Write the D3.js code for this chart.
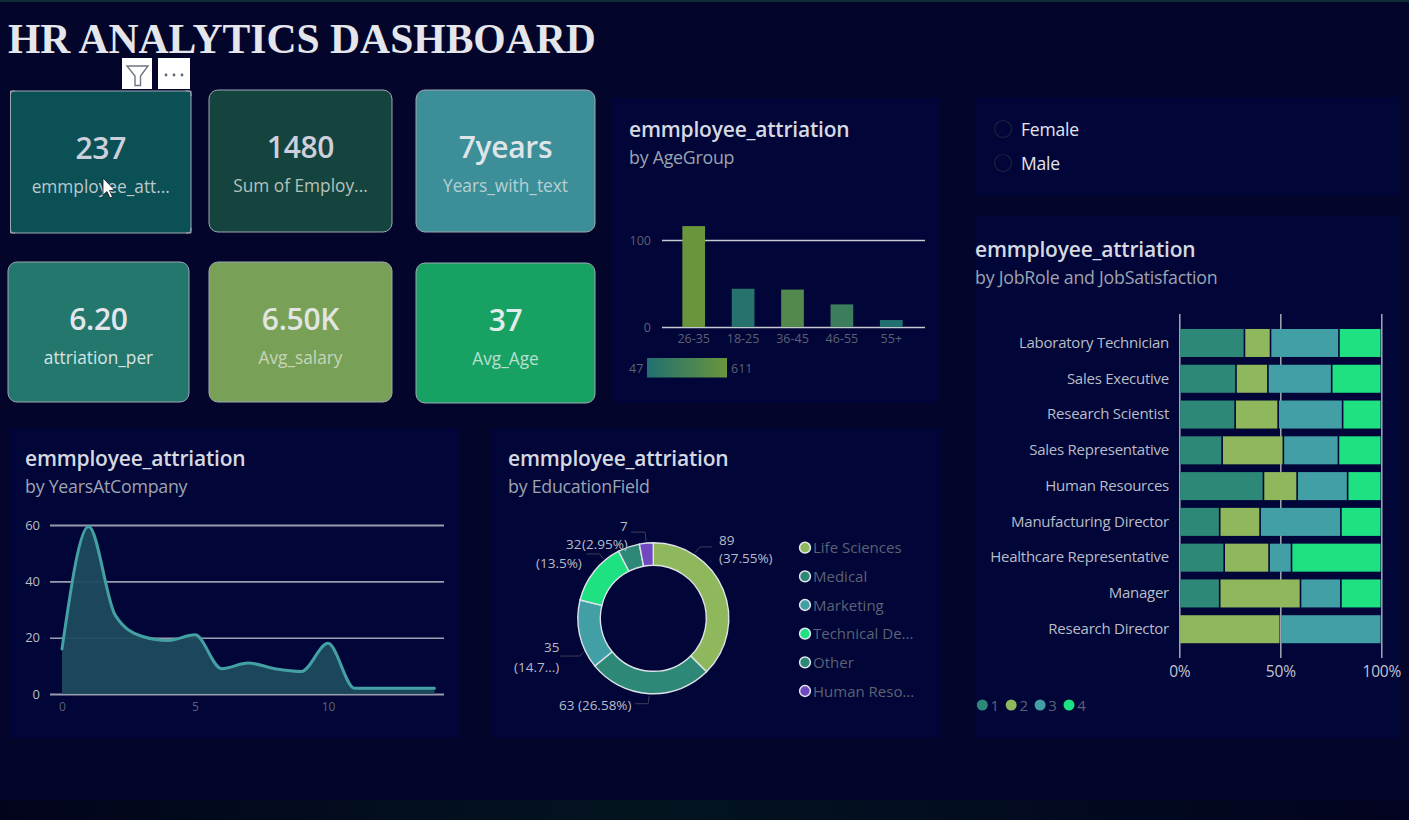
<!DOCTYPE html>
<html>
<head>
<meta charset="utf-8">
<script src="https://cdn.jsdelivr.net/npm/d3@7"></script>
<style>
  html, body { margin: 0; padding: 0; background: #03052a; overflow: hidden; }
  svg { display: block; }
  text { font-family: "Open Sans", "Noto Sans", sans-serif; }
</style>
</head>
<body>
<svg id="board" width="1409" height="820"></svg>
<script>
// ---- Data ----
const dashboardTitle = "HR ANALYTICS DASHBOARD";
const measureName = "emmployee_attriation";

const cardValues = ["237", "1480", "7years", "6.20", "6.50K", "37"];
const cardLabels = ["emmployee_att...", "Sum of Employ...", "Years_with_text", "attriation_per", "Avg_salary", "Avg_Age"];

const genderOptions = ["Female", "Male"];

const ageGroups = ["26-35", "18-25", "36-45", "46-55", "55+"];
const ageAttrition = [116, 44, 43, 26, 8];
const ageColorMeasure = [611, 95, 430, 250, 47];
const ageColorRange = [47, 611];

const yearsAtCompany = [0, 1, 2, 3, 4, 5, 6, 7, 8, 9, 10, 11, 12, 13, 14];
const yearsAttrition = [16, 59.5, 28, 20.5, 19, 21, 9, 11, 9, 8, 18, 2, 2, 2, 2];

const educationFields = ["Life Sciences", "Medical", "Marketing", "Technical De...", "Other", "Human Reso..."];
const educationAttrition = [89, 63, 35, 32, 11, 7];

const jobRoles = ["Laboratory Technician", "Sales Executive", "Research Scientist", "Sales Representative",
  "Human Resources", "Manufacturing Director", "Healthcare Representative", "Manager", "Research Director"];
const satisfactionLevels = ["1", "2", "3", "4"];
const satisfaction1 = [20, 16, 13, 7, 5, 2, 2, 1, 0];
const satisfaction2 = [8, 9, 10, 10, 2, 2, 2, 2, 1];
const satisfaction3 = [21, 18, 15, 9, 3, 4, 1, 1, 1];
const satisfaction4 = [13, 14, 9, 7, 2, 2, 4, 1, 0];

// ---- Palette ----
const panelFill = "#010537";
const teal = "#2d8878", olive = "#8fb85c", aqua = "#429fa6", mint = "#1ee181", violet = "#7048c0";
const greyText = "#5c6274", softText = "#b9bdc9", titleText = "#d6d9e2", subText = "#9ea3b2", gridGrey = "#a6a8b6";

const svg = d3.select("#board");

// Page backdrop: thin glow along the top edge and a darker band at the foot
const defs = svg.append("defs");
const footGlow = defs.append("linearGradient").attr("id", "footGlow");
footGlow.selectAll("stop").data([["0%", "#02041c"], ["45%", "#03141f"], ["100%", "#020320"]]).join("stop")
  .attr("offset", d => d[0]).attr("stop-color", d => d[1]);
svg.append("rect").attr("width", 1409).attr("height", 820).attr("fill", "#03052a");
svg.append("rect").attr("width", 1409).attr("height", 2).attr("fill", "#0d2c33");
svg.append("rect").attr("y", 800).attr("width", 1409).attr("height", 20).attr("fill", "url(#footGlow)");

function label(parent, x, y, str, size, fill, opts = {}) {
  return parent.append("text").attr("x", x).attr("y", y).text(str)
    .attr("font-size", size).attr("fill", fill)
    .attr("font-weight", opts.weight || 400)
    .attr("letter-spacing", opts.spacing || 0)
    .attr("text-anchor", opts.anchor || "start");
}

function panel(x, y, w, h) {
  svg.append("rect").attr("x", x).attr("y", y).attr("width", w).attr("height", h).attr("fill", panelFill);
}

function heading(x, y, sub) {
  label(svg, x, y, measureName, 21, titleText, { weight: 600, spacing: -0.2 });
  label(svg, x, y + 27, sub, 17.8, subText, { spacing: -0.25 });
}

// ---- Title ----
label(svg, 8, 53, dashboardTitle, 41.6, "#e4e6ec", { weight: 700 }).style("font-family", '"Liberation Serif", serif');

// ---- KPI cards ----
const cardBoxes = [
  { x: 10.5, y: 91, w: 180.5, h: 142, fill: "#0a5055", val: "#cdd0dc", sub: "#bcc8cc" },
  { x: 209, y: 90, w: 183, h: 142, fill: "#15443e", val: "#cdd0dc", sub: "#b4c2bf" },
  { x: 416, y: 90, w: 179, h: 142, fill: "#3c8f98", val: "#dfe4e8", sub: "#b8d0d4" },
  { x: 8, y: 262, w: 181, h: 140, fill: "#23776d", val: "#e2e6ea", sub: "#d8e4e4" },
  { x: 209, y: 262, w: 183, h: 140, fill: "#78a056", val: "#e2e6e2", sub: "#c6d6ba" },
  { x: 416, y: 263, w: 179, h: 140, fill: "#17a163", val: "#e2ecea", sub: "#b8e0cf" }
];
cardBoxes.forEach((b, i) => {
  svg.append("rect").attr("x", b.x).attr("y", b.y).attr("width", b.w).attr("height", b.h)
    .attr("rx", i === 0 ? 3 : 9).attr("fill", b.fill).attr("stroke", "#9fa8b4").attr("stroke-width", 1);
  label(svg, b.x + b.w / 2, b.y + 68, cardValues[i], 30, b.val, { anchor: "middle", weight: 600, spacing: -0.3 });
  label(svg, b.x + b.w / 2, b.y + 102, cardLabels[i], 17.3, b.sub, { anchor: "middle" });
});

// Selection brackets around the first card, its header buttons and the pointer
const corner = svg.append("g").attr("fill", "none").attr("stroke", "#a2a6b4").attr("stroke-width", 1);
[[10.5, 96, 10.5, 91, 15, 91], [186, 91, 191, 91, 191, 96], [191, 228, 191, 233, 186, 233], [15, 233, 10.5, 233, 10.5, 228]]
  .forEach(c => corner.append("path").attr("d", `M${c[0]},${c[1]}L${c[2]},${c[3]}L${c[4]},${c[5]}`));
svg.append("rect").attr("x", 122).attr("y", 58).attr("width", 30).attr("height", 31).attr("fill", "#fff");
svg.append("rect").attr("x", 158).attr("y", 58).attr("width", 32).attr("height", 31).attr("fill", "#fff");
svg.append("path").attr("d", "M127,66H148L140.5,76V85.5L135,85.5V76Z").attr("fill", "none").attr("stroke", "#6f7480").attr("stroke-width", 1.4);
[166, 174, 182].forEach(cx => svg.append("circle").attr("cx", cx).attr("cy", 75).attr("r", 1.4).attr("fill", "#5c6270"));
svg.append("path").attr("d", "M103,178V195L107,191.5L110,198L112.5,197L109.5,190.5L114.5,190Z")
  .attr("fill", "#fff").attr("stroke", "#10131f").attr("stroke-width", 0.8);

// ---- Attrition by age group ----
panel(612, 98, 328, 305);
heading(629, 137, "by AgeGroup");
const ageX = d3.scaleBand().domain(ageGroups).range([669, 916]).paddingInner(0.54).paddingOuter(0.27);
const ageY = d3.scaleLinear().domain([0, 100]).range([327, 240]);
const ageColor = d3.scaleLinear().domain(ageColorRange).range(["#216f70", "#6a953c"]);
const ageAxisY = svg.append("g").attr("transform", "translate(662,0)")
  .call(d3.axisLeft(ageY).tickValues([0, 100]).tickSize(-263).tickPadding(11));
ageAxisY.select(".domain").remove();
ageAxisY.selectAll("line").attr("stroke", "#c6c8d2").attr("stroke-width", 1.4);
ageAxisY.selectAll("text").attr("font-size", 12.5).attr("fill", greyText).style("font-family", '"Open Sans"');
svg.append("g").selectAll("rect").data(ageGroups).join("rect")
  .attr("x", d => ageX(d)).attr("width", ageX.bandwidth())
  .attr("y", (d, i) => ageY(ageAttrition[i])).attr("height", (d, i) => ageY(0) - ageY(ageAttrition[i]))
  .attr("fill", (d, i) => ageColor(ageColorMeasure[i]));
const ageAxisX = svg.append("g").attr("transform", "translate(0,327)")
  .call(d3.axisBottom(ageX).tickSize(0).tickPadding(7));
ageAxisX.select(".domain").remove();
ageAxisX.selectAll("text").attr("font-size", 12.5).attr("fill", greyText).style("font-family", '"Open Sans"');
const ramp = defs.append("linearGradient").attr("id", "ageRamp");
ramp.selectAll("stop").data(ageColorRange).join("stop")
  .attr("offset", (d, i) => i * 100 + "%").attr("stop-color", d => ageColor(d));
svg.append("rect").attr("x", 647).attr("y", 358).attr("width", 80).attr("height", 19.5).attr("fill", "url(#ageRamp)");
label(svg, 629, 373, String(ageColorRange[0]), 12.5, greyText);
label(svg, 731, 373, String(ageColorRange[1]), 12.5, greyText);

// ---- Gender slicer ----
panel(975, 97, 425, 99);
genderOptions.forEach((g, i) => {
  svg.append("circle").attr("cx", 1003).attr("cy", 129 + i * 34).attr("r", 8.5)
    .attr("fill", "none").attr("stroke", "#1b2240").attr("stroke-width", 1.2);
  label(svg, 1021, 136 + i * 33.5, g, 17.5, "#e4e6ee", { spacing: -0.2 });
});

// ---- Attrition by job role and satisfaction ----
panel(975, 216, 425, 522);
heading(975, 257, "by JobRole and JobSatisfaction");
const roleTable = jobRoles.map((r, i) => ({
  role: r, "1": satisfaction1[i], "2": satisfaction2[i], "3": satisfaction3[i], "4": satisfaction4[i]
}));
const roleStack = d3.stack().keys(satisfactionLevels).offset(d3.stackOffsetExpand)(roleTable);
const shareX = d3.scaleLinear().domain([0, 1]).range([1179.3, 1381.3]);
const roleY = d3.scaleBand().domain(jobRoles).range([325.1, 647.1]).paddingInner(0.217).paddingOuter(0.108);
const satColor = d3.scaleOrdinal().domain(satisfactionLevels).range([teal, olive, aqua, mint]);
const shareAxis = svg.append("g").attr("transform", "translate(0,658)")
  .call(d3.axisBottom(shareX).tickValues([0, 0.5, 1]).tickFormat(d3.format(".0%")).tickSize(344).tickPadding(6));
shareAxis.select(".domain").remove();
shareAxis.selectAll("line").attr("stroke", gridGrey).attr("stroke-width", 1.5).attr("y1", -344).attr("y2", 0);
shareAxis.selectAll("text").attr("y", 8).attr("dy", "0.71em").attr("font-size", 15.5).attr("letter-spacing", -0.2)
  .attr("fill", "#c2c5d0").style("font-family", '"Open Sans"');
svg.append("g").selectAll("g").data(roleStack).join("g").attr("fill", d => satColor(d.key))
  .selectAll("rect").data(d => d).join("rect")
  .attr("x", d => shareX(d[0]) + 0.8).attr("width", d => Math.max(0, shareX(d[1]) - shareX(d[0]) - 1.6))
  .attr("y", d => roleY(d.data.role)).attr("height", roleY.bandwidth());
const roleAxis = svg.append("g").attr("transform", "translate(1179,0)")
  .call(d3.axisLeft(roleY).tickSize(0).tickPadding(10));
roleAxis.select(".domain").remove();
roleAxis.selectAll("text").attr("font-size", 15).attr("letter-spacing", -0.25).attr("fill", softText).style("font-family", '"Open Sans"');
satisfactionLevels.forEach((s, i) => {
  svg.append("circle").attr("cx", 982.3 + i * 28.9).attr("cy", 705).attr("r", 5.5).attr("fill", satColor(s));
  label(svg, 990.5 + i * 28.9, 711, s, 15, greyText);
});

// ---- Attrition by years at company ----
panel(10, 428, 450, 310);
heading(25, 466, "by YearsAtCompany");
const yearX = d3.scaleLinear().domain([0, 5]).range([62, 195]);
const yearY = d3.scaleLinear().domain([0, 60]).range([694, 525]);
const yearAxisY = svg.append("g").attr("transform", "translate(50,0)")
  .call(d3.axisLeft(yearY).tickValues([0, 20, 40, 60]).tickSize(-394).tickPadding(10));
yearAxisY.select(".domain").remove();
yearAxisY.selectAll("line")
  .attr("stroke", d => d === 20 ? "#eef0f4" : "#9a9cae")
  .attr("stroke-width", d => d === 20 ? 1 : 1.8);
yearAxisY.selectAll("text").attr("font-size", 13).attr("fill", "#b9bdc9").style("font-family", '"Open Sans"');
const smooth = d3.curveMonotoneX;
svg.append("path").datum(yearsAttrition)
  .attr("d", d3.area().x((d, i) => yearX(yearsAtCompany[i])).y0(yearY(0)).y1(d => yearY(d)).curve(smooth))
  .attr("fill", "#1d4a5e").attr("fill-opacity", 0.95);
svg.append("path").datum(yearsAttrition)
  .attr("d", d3.line().x((d, i) => yearX(yearsAtCompany[i])).y(d => yearY(d)).curve(smooth))
  .attr("fill", "none").attr("stroke", "#43a1a4").attr("stroke-width", 3).attr("stroke-linecap", "round");
const yearAxisX = svg.append("g").attr("transform", "translate(0,694)")
  .call(d3.axisBottom(yearX).tickValues([0, 5, 10]).tickFormat(d3.format("d")).tickSize(0).tickPadding(8));
yearAxisX.select(".domain").remove();
yearAxisX.selectAll("text").attr("font-size", 12).attr("fill", greyText).style("font-family", '"Open Sans"');

// ---- Attrition by education field ----
panel(491, 428, 451, 310);
heading(508, 466, "by EducationField");
const ringColors = [olive, teal, aqua, mint, teal, violet];
const ringCx = 653.3, ringCy = 618.3, ringOuter = 75.5, ringInner = 53;
const ring = d3.pie().sort(null)(educationAttrition);
const arc = d3.arc().innerRadius(ringInner).outerRadius(ringOuter);
const ringG = svg.append("g").attr("transform", `translate(${ringCx},${ringCy})`);
ringG.selectAll("path").data(ring).join("path")
  .attr("d", arc).attr("fill", (d, i) => ringColors[i])
  .attr("stroke", "#dfe3e8").attr("stroke-width", 1.4);

// Callouts: a leader from each slice edge, with its text placed beside the ring
const callouts = [
  { slice: 0, along: 0.24, elbow: [5, -6], end: [17, -6], lines: [["89", 719, 545], ["(37.55%)", 719, 563]] },
  { slice: 1, along: 0.5, elbow: [-1, 8], end: [-14, 8], lines: [["63 (26.58%)", 559, 710]] },
  { slice: 2, along: 0.25, elbow: [-4, 4], end: [-23, 4], lines: [["35", 544, 652], ["(14.7...)", 514, 672]] },
  { slice: 3, along: 0.74, elbow: [-4, -5], end: [-17, -5], lines: [["32", 566, 549], ["(13.5%)", 536, 568]] },
  { slice: 5, along: 0.5, elbow: [-1, -9], end: [-15, -9], lines: [["7", 620, 531], ["(2.95%)", 582, 549]] }
];
callouts.forEach(c => {
  const s = ring[c.slice];
  const angle = s.startAngle + (s.endAngle - s.startAngle) * c.along;
  const px = ringCx + Math.sin(angle) * (ringOuter + 2), py = ringCy - Math.cos(angle) * (ringOuter + 2);
  svg.append("path").attr("fill", "none").attr("stroke", "#3a4058").attr("stroke-width", 1)
    .attr("d", d3.line()([[px, py], [px + c.elbow[0], py + c.elbow[1]], [px + c.end[0], py + c.end[1]]]));
  c.lines.forEach(l => label(svg, l[1], l[2], l[0], 13.5, softText));
});

const legendRows = d3.scaleLinear().domain([0, 5]).range([547.7, 691]);
educationFields.forEach((f, i) => {
  svg.append("circle").attr("cx", 805).attr("cy", legendRows(i)).attr("r", 5.4)
    .attr("fill", ringColors[i]).attr("stroke", "#e6e8ee").attr("stroke-width", 1.5);
  label(svg, 813, legendRows(i) + 5.5, f, 15, greyText);
});
</script>
</body>
</html>
